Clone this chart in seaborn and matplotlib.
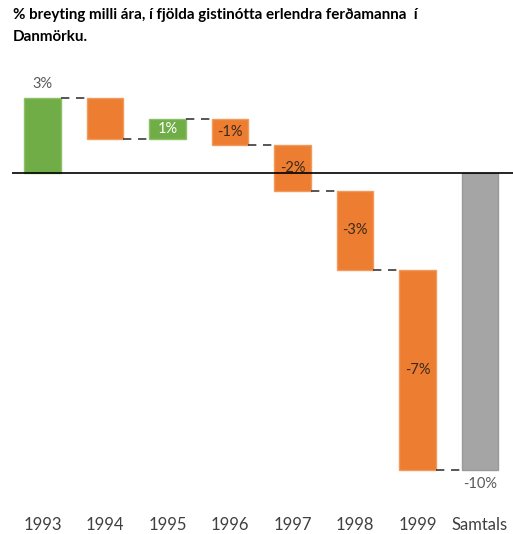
import numpy as np
import pandas as pd
import matplotlib
matplotlib.use("Agg")
import matplotlib.pyplot as plt
import seaborn as sns

# data
categories = ["1993", "1994", "1995", "1996", "1997", "1998", "1999", "Samtals"]
changes = [2.52, -1.36, 0.65, -0.87, -1.54, -2.67, -6.73]
labels = ["3%", "", "1%", "-1%", "-2%", "-3%", "-7%", "-10%"]

title = "% breyting milli ára, í fjölda gistinótta erlendra ferðamanna  í\nDanmörku."

green = "#70AD47"
orange = "#ED7D31"
grey = "#A5A5A5"

# waterfall: bottoms and heights from the running total
running = np.cumsum([0] + changes)
total = running[-1]
bottoms = list(running[:-1]) + [0]
heights = changes + [total]

df = pd.DataFrame({"cat": categories, "height": heights, "bottom": bottoms})

sns.set_style("white")
plt.rcParams["font.family"] = ["Lato", "DejaVu Sans"]

fig = plt.figure(figsize=(5.13, 5.34), dpi=100)
ax = fig.add_axes([12 / 513, 34 / 534, 501 / 513, 440 / 534])

sns.barplot(data=df, x="cat", y="height", bottom=df["bottom"].to_numpy(),
            color=orange, width=0.58, errorbar=None, ax=ax)

for i, p in enumerate(ax.patches):
    if i == len(categories) - 1:
        p.set_facecolor(grey)
        p.set_edgecolor("#9a9a9a")
    elif heights[i] > 0:
        p.set_facecolor(green)
        p.set_edgecolor("#8CC168")
    else:
        p.set_facecolor(orange)
        p.set_edgecolor("#F29A5E")
    p.set_linewidth(1.0)

# connectors between bars
w = 0.58
for i in range(len(categories) - 1):
    level = running[i + 1]
    ax.plot([i + w / 2, i + 1 - w / 2], [level, level], color="#3a3a3a",
            lw=1.2, ls=(0, (5, 4)), zorder=1)

ax.axhline(0, color="black", lw=1.2, zorder=3)

# value labels
for i, lab in enumerate(labels):
    if not lab:
        continue
    top = bottoms[i] + heights[i]
    if i == 0:
        ax.text(i, top + 0.25, lab, ha="center", va="bottom", fontsize=10.5, color="#595959")
    elif i == len(categories) - 1:
        ax.text(i, top - 0.25, lab, ha="center", va="top", fontsize=10.5, color="#595959")
    else:
        col = "white" if heights[i] > 0 else "#3b2a1a"
        ax.text(i, bottoms[i] + heights[i] / 2, lab, ha="center", va="center",
                fontsize=10.5, color=col, zorder=4)

ax.set_ylim(-(500 - 173) / 29.7, (173 - 60) / 29.7)
ax.set_xlim((12 - 42.5) / 62.5, (513 - 42.5) / 62.5)
ax.set_yticks([])
ax.set_xlabel("")
ax.set_ylabel("")
ax.tick_params(axis="x", length=0, labelsize=12, colors="#404040", pad=12)
sns.despine(ax=ax, left=True, bottom=True)

fig.text(13 / 513, 1 - 8 / 534, title, ha="left", va="top", fontsize=10.9,
         fontweight="bold", color="black", linespacing=1.75)

fig.savefig("out.png", dpi=100)
